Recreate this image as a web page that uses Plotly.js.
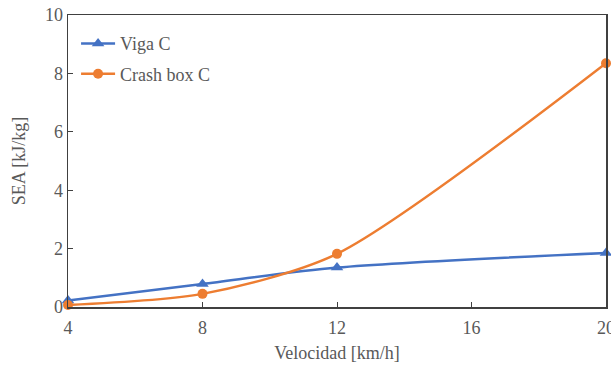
<!DOCTYPE html>
<html><head><meta charset="utf-8">
<script src="https://cdn.plot.ly/plotly-3.0.1.min.js"></script>
<style>html,body{margin:0;padding:0;background:#fff;}#c{width:611px;height:367px;}</style>
</head><body><div id="c"></div>
<script>
const velocidad = [4, 8, 12, 20];
const vigaC = [0.22, 0.79, 1.35, 1.85];
const crashBoxC = [0.07, 0.45, 1.82, 8.35];
const xTicks = [4, 8, 12, 16, 20];
const yTicks = [0, 2, 4, 6, 8, 10];

const fam = '"Liberation Serif", "Times New Roman", serif';
const font = {family: fam, color: '#595959', size: 18};
const traces = [
  {x: velocidad, y: vigaC, name: 'Viga C', mode: 'lines+markers', type: 'scatter', legendgroup: 'a',
   line: {color: '#4472C4', width: 2.5, shape: 'spline', smoothing: 0.8},
   marker: {symbol: 'triangle-up', size: 11, color: '#4472C4'}, cliponaxis: false},
  {x: velocidad, y: crashBoxC, name: 'Crash box C', mode: 'lines+markers', type: 'scatter', legendgroup: 'b',
   line: {color: '#ED7D31', width: 2.5, shape: 'spline', smoothing: 0.75},
   marker: {symbol: 'circle', size: 10, color: '#ED7D31'}, cliponaxis: false}
];
const layout = {
  width: 611, height: 367,
  margin: {l: 68, r: 5, t: 15, b: 60},
  paper_bgcolor: '#fff', plot_bgcolor: '#fff',
  font: font,
  showlegend: true,
  legend: {x: 0.015, y: 0.965, xanchor: 'left', yanchor: 'top', bgcolor: 'rgba(0,0,0,0)',
           font: {family: fam, color: '#595959', size: 18}, tracegroupgap: 4, itemwidth: 34},
  xaxis: {range: [4, 20.0001], tickvals: xTicks, ticktext: xTicks.map(String),
          showgrid: false, zeroline: false, showline: true, mirror: true,
          linecolor: '#404040', linewidth: 1.5, ticks: 'inside', ticklen: 5, tickcolor: '#404040',
          tickfont: font, ticklabeloverflow: 'allow', ticklabelstandoff: 4,
          title: {text: 'Velocidad [km/h]', font: font, standoff: 9}},
  yaxis: {range: [0, 10], tickvals: yTicks, ticktext: yTicks.map(String),
          showgrid: false, zeroline: false, showline: true, mirror: true,
          linecolor: '#404040', linewidth: 1.5, ticks: 'inside', ticklen: 5, tickcolor: '#404040',
          tickfont: font,
          title: {text: 'SEA [kJ/kg]', font: font, standoff: 14}}
};
Plotly.newPlot('c', traces, layout, {displayModeBar: false, staticPlot: true});
</script></body></html>
